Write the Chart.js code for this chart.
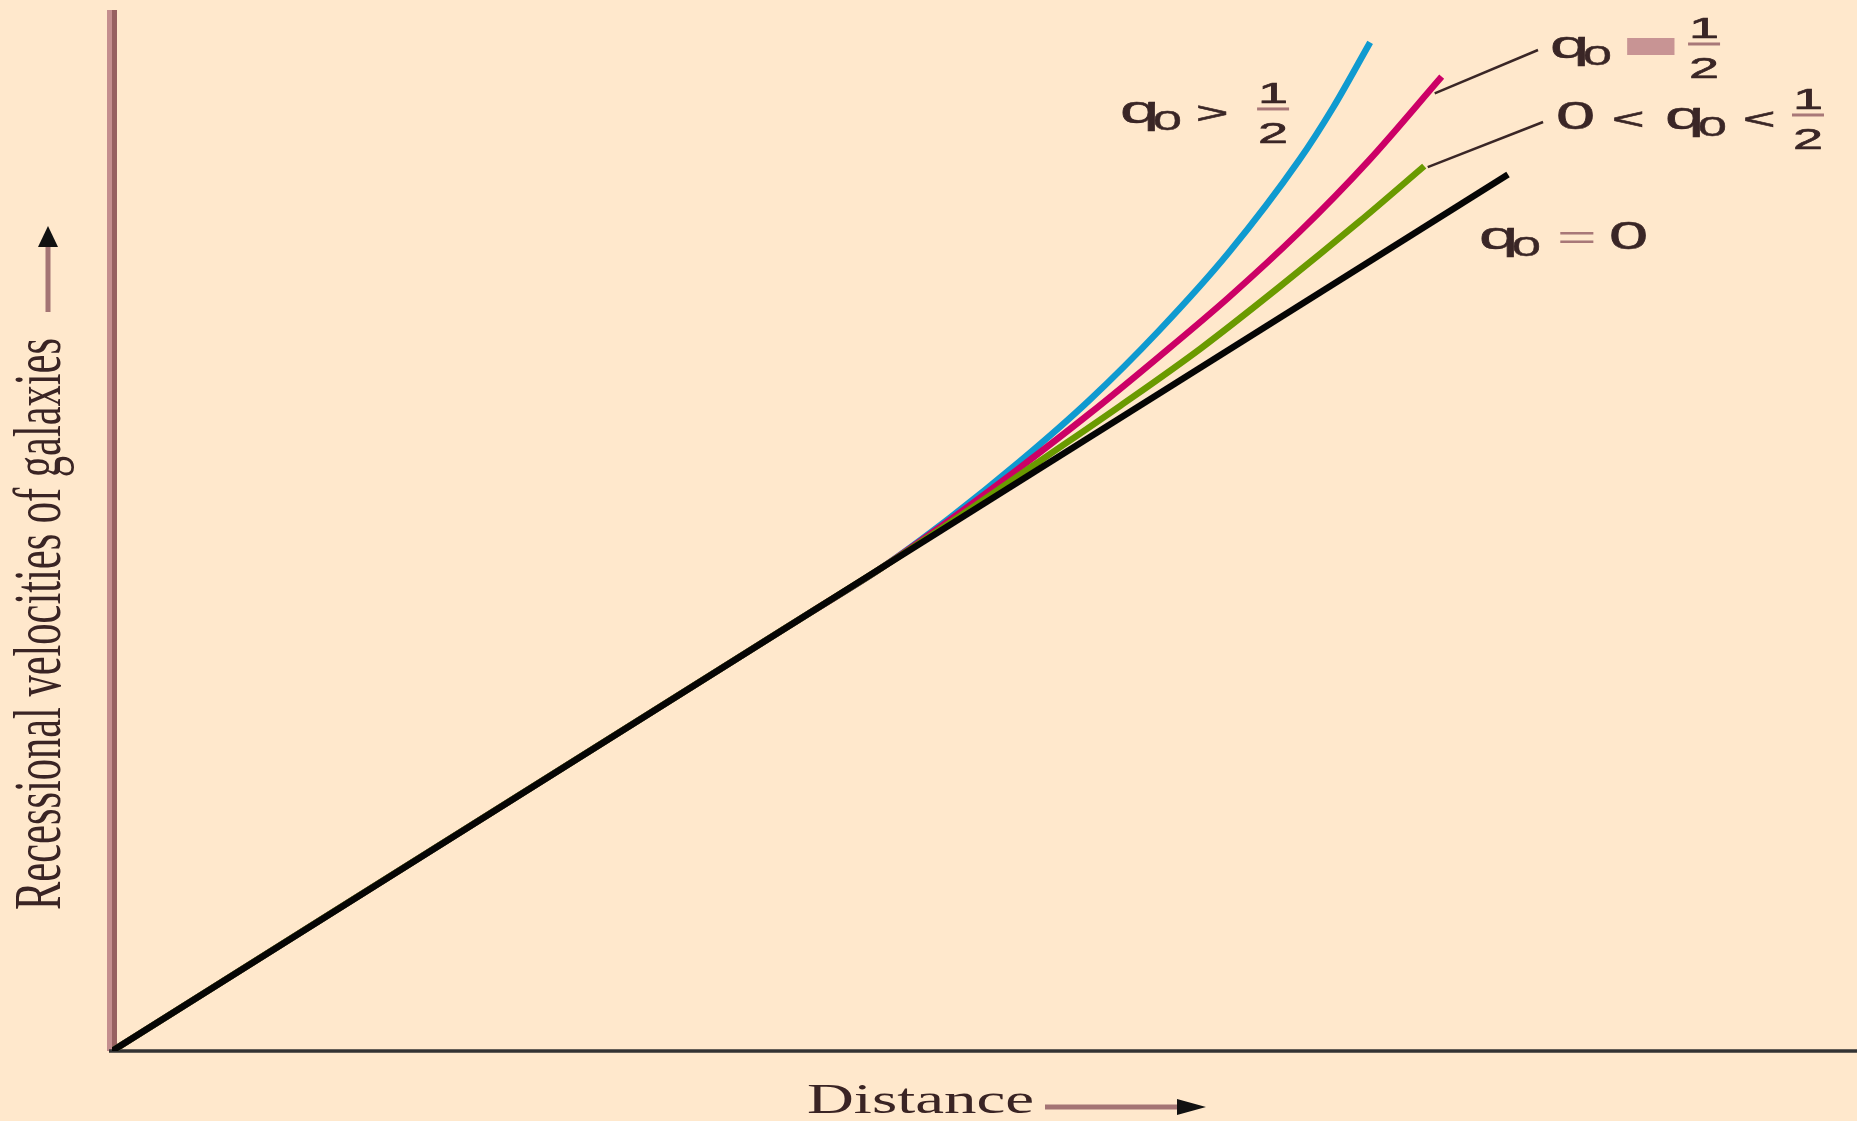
<!DOCTYPE html>
<html>
<head>
<meta charset="utf-8">
<script src="https://cdn.jsdelivr.net/npm/chart.js@4.4.1/dist/chart.umd.min.js"></script>
<style>
  html, body { margin: 0; padding: 0; background: #FFE8CC; }
  canvas { display: block; }
</style>
</head>
<body>
<canvas id="hubble" width="1857" height="1121"></canvas>
<script>
// Recession velocity of galaxies against distance for several values of the
// deceleration parameter q0 (arbitrary units on both axes).

// q0 = 0 : straight Hubble line
const zeroDistance = [0, 8.0];
const zeroVelocity = [0, 8.42];

// 0 < q0 < 1/2
const lowDistance = [0, 3.6, 4.0, 4.40, 4.86, 5.32, 5.78, 6.24, 6.69, 7.15, 7.52];
const lowVelocity = [0, 3.79, 4.21, 4.63, 5.14, 5.67, 6.20, 6.75, 7.34, 7.97, 8.50];

// q0 = 1/2
const criticalDistance = [0, 3.6, 4.0, 4.40, 4.80, 5.20, 5.60, 6.00, 6.40, 6.80, 7.20, 7.62];
const criticalVelocity = [0, 3.79, 4.21, 4.63, 5.10, 5.60, 6.12, 6.67, 7.24, 7.86, 8.55, 9.36];

// q0 > 1/2
const highDistance = [0, 3.6, 4.0, 4.40, 4.80, 5.20, 5.60, 6.00, 6.40, 6.80, 7.00, 7.21];
const highVelocity = [0, 3.79, 4.21, 4.63, 5.12, 5.66, 6.25, 6.92, 7.67, 8.55, 9.07, 9.69];

const xTitle = 'Distance';
const yTitle = 'Recessional velocities of galaxies';

// ---------------------------------------------------------------------------
const toPoints = (xs, ys) => xs.map((x, i) => ({ x, y: ys[i] }));

const SANS = '"Liberation Sans", Arial, sans-serif';
const SERIF = '"Liberation Serif", "Times New Roman", serif';
const INK = '#3a2626';
const ROSE = '#a87878';
const WIDE = 1.85;           // the lettering is set extra wide

function txt(ctx, s, x, y, size, opts = {}) {
  ctx.save();
  ctx.font = `${opts.weight || 'normal'} ${size}px ${opts.family || SANS}`;
  ctx.fillStyle = opts.color || INK;
  ctx.textAlign = opts.align || 'left';
  ctx.textBaseline = 'alphabetic';
  ctx.translate(x, y);
  ctx.scale(opts.sx || WIDE, 1);
  ctx.fillText(s, 0, 0);
  if (opts.stroke) {
    ctx.strokeStyle = opts.color || INK;
    ctx.lineWidth = opts.stroke;
    ctx.strokeText(s, 0, 0);
  }
  ctx.restore();
}

function q0(ctx, x, base) {
  txt(ctx, 'q', x, base, 38, { stroke: 0.5 });
  txt(ctx, '0', x + 33, base + 7, 28, { stroke: 0.4 });
}

function half(ctx, cx, base) {
  const bar = base - 14;
  ctx.fillStyle = ROSE;
  ctx.fillRect(cx - 16, bar - 1.5, 32, 3);
  txt(ctx, '1', cx, bar - 6, 30, { align: 'center', sx: 1.8, stroke: 0.6 });
  txt(ctx, '2', cx, bar + 34, 30, { align: 'center', sx: 1.8, stroke: 0.6 });
}

// annotation anchors, in data units
const annot = {
  high:     [5.777, 8.915],
  critical: [8.241, 9.539],
  low:      [8.275, 8.857],
  zero:     [7.834, 7.704],
  criticalLeader: [[7.58, 9.20], [8.172, 9.616]],
  lowLeader:      [[7.54, 8.49], [8.201, 8.924]]
};

const decorations = {
  id: 'decorations',
  beforeDraw(chart) {
    const ctx = chart.ctx;
    ctx.save();
    ctx.fillStyle = '#FFE8CC';
    ctx.fillRect(0, 0, chart.width, chart.height);
    ctx.restore();
  },
  beforeDatasetsDraw(chart) {
    const { ctx, chartArea } = chart;
    const xs = chart.scales.x, ys = chart.scales.y;
    const x0 = xs.getPixelForValue(0), y0 = ys.getPixelForValue(0);
    ctx.save();
    // vertical axis: two-tone rose bar
    ctx.fillStyle = '#c48e8e';
    ctx.fillRect(x0 - 5, chartArea.top, 5, y0 - chartArea.top);
    ctx.fillStyle = '#976060';
    ctx.fillRect(x0, chartArea.top, 5, y0 - chartArea.top);
    // horizontal axis
    ctx.strokeStyle = '#333333';
    ctx.lineWidth = 3.5;
    ctx.beginPath();
    ctx.moveTo(x0 - 3, y0);
    ctx.lineTo(chart.width, y0);
    ctx.stroke();
    ctx.restore();
  },
  afterDatasetsDraw(chart) {
    const ctx = chart.ctx;
    const xs = chart.scales.x, ys = chart.scales.y;
    const px = p => [xs.getPixelForValue(p[0]), ys.getPixelForValue(p[1])];

    ctx.save();
    // leader lines
    ctx.strokeStyle = '#3a2626';
    ctx.lineWidth = 2.5;
    for (const seg of [annot.criticalLeader, annot.lowLeader]) {
      const a = px(seg[0]), b = px(seg[1]);
      ctx.beginPath();
      ctx.moveTo(a[0], a[1]);
      ctx.lineTo(b[0], b[1]);
      ctx.stroke();
    }

    // q0 > 1/2
    let [ax, ay] = px(annot.high);
    q0(ctx, ax, ay);
    txt(ctx, '>', ax + 76, ay, 30, { stroke: 0.6 });
    half(ctx, ax + 153, ay);

    // q0 = 1/2
    [ax, ay] = px(annot.critical);
    q0(ctx, ax, ay);
    txt(ctx, '=', ax + 80, ay, 34, { color: '#c89494', sx: 2.1, stroke: 6 });
    half(ctx, ax + 154, ay);

    // 0 < q0 < 1/2
    [ax, ay] = px(annot.low);
    txt(ctx, '0', ax, ay, 38, { stroke: 0.5 });
    txt(ctx, '<', ax + 56, ay, 30, { stroke: 0.6 });
    q0(ctx, ax + 109, ay);
    txt(ctx, '<', ax + 187, ay, 30, { stroke: 0.6 });
    half(ctx, ax + 252, ay);

    // q0 = 0
    [ax, ay] = px(annot.zero);
    q0(ctx, ax, ay);
    txt(ctx, '=', ax + 78, ay, 34, { color: ROSE, sx: 2.0 });
    txt(ctx, '0', ax + 130, ay, 38, { stroke: 0.5 });

    // x title with arrow
    ctx.font = `42px ${SERIF}`;
    const wx = ctx.measureText(xTitle).width;
    txt(ctx, xTitle, 807, 1113, 42, { family: SERIF, sx: 227 / wx, color: '#3a2424' });
    ctx.fillStyle = '#a47474';
    ctx.fillRect(1045, 1104.5, 135, 5);
    ctx.fillStyle = '#111';
    ctx.beginPath();
    ctx.moveTo(1206, 1107);
    ctx.lineTo(1177, 1099);
    ctx.lineTo(1177, 1115);
    ctx.closePath();
    ctx.fill();

    // y title (rotated) with arrow
    ctx.font = `42px ${SERIF}`;
    const wy = ctx.measureText(yTitle).width;
    ctx.save();
    ctx.translate(60, 910);
    ctx.rotate(-Math.PI / 2);
    ctx.scale(572 / wy, 1.6);
    ctx.fillStyle = '#3a2424';
    ctx.textBaseline = 'alphabetic';
    ctx.fillText(yTitle, 0, 0);
    ctx.restore();
    ctx.fillStyle = '#a47474';
    ctx.fillRect(45.5, 244, 5, 68);
    ctx.fillStyle = '#111';
    ctx.beginPath();
    ctx.moveTo(48, 226);
    ctx.lineTo(38, 247);
    ctx.lineTo(58, 247);
    ctx.closePath();
    ctx.fill();
    ctx.restore();
  }
};

const lineStyle = {
  borderWidth: 6.5,
  pointRadius: 0,
  fill: false,
  borderCapStyle: 'butt',
  borderJoinStyle: 'round'
};

new Chart(document.getElementById('hubble'), {
  type: 'line',
  data: {
    datasets: [
      { ...lineStyle, label: 'q0 = 0', data: toPoints(zeroDistance, zeroVelocity),
        borderColor: '#050505', tension: 0, order: 0 },
      { ...lineStyle, label: '0 < q0 < 1/2', data: toPoints(lowDistance, lowVelocity),
        borderColor: '#6a9a00', cubicInterpolationMode: 'monotone', order: 1 },
      { ...lineStyle, label: 'q0 = 1/2', data: toPoints(criticalDistance, criticalVelocity),
        borderColor: '#cc0066', cubicInterpolationMode: 'monotone', order: 2 },
      { ...lineStyle, label: 'q0 > 1/2', data: toPoints(highDistance, highVelocity),
        borderColor: '#0f9ad0', cubicInterpolationMode: 'monotone', order: 3 }
    ]
  },
  options: {
    responsive: false,
    animation: false,
    events: [],
    layout: { padding: { left: 112, right: 0, top: 10, bottom: 70 } },
    plugins: { legend: { display: false }, tooltip: { enabled: false } },
    scales: {
      x: { type: 'linear', min: 0, max: 10, display: false },
      y: { type: 'linear', min: 0, max: 10, display: false }
    }
  },
  plugins: [decorations]
});
</script>
</body>
</html>
